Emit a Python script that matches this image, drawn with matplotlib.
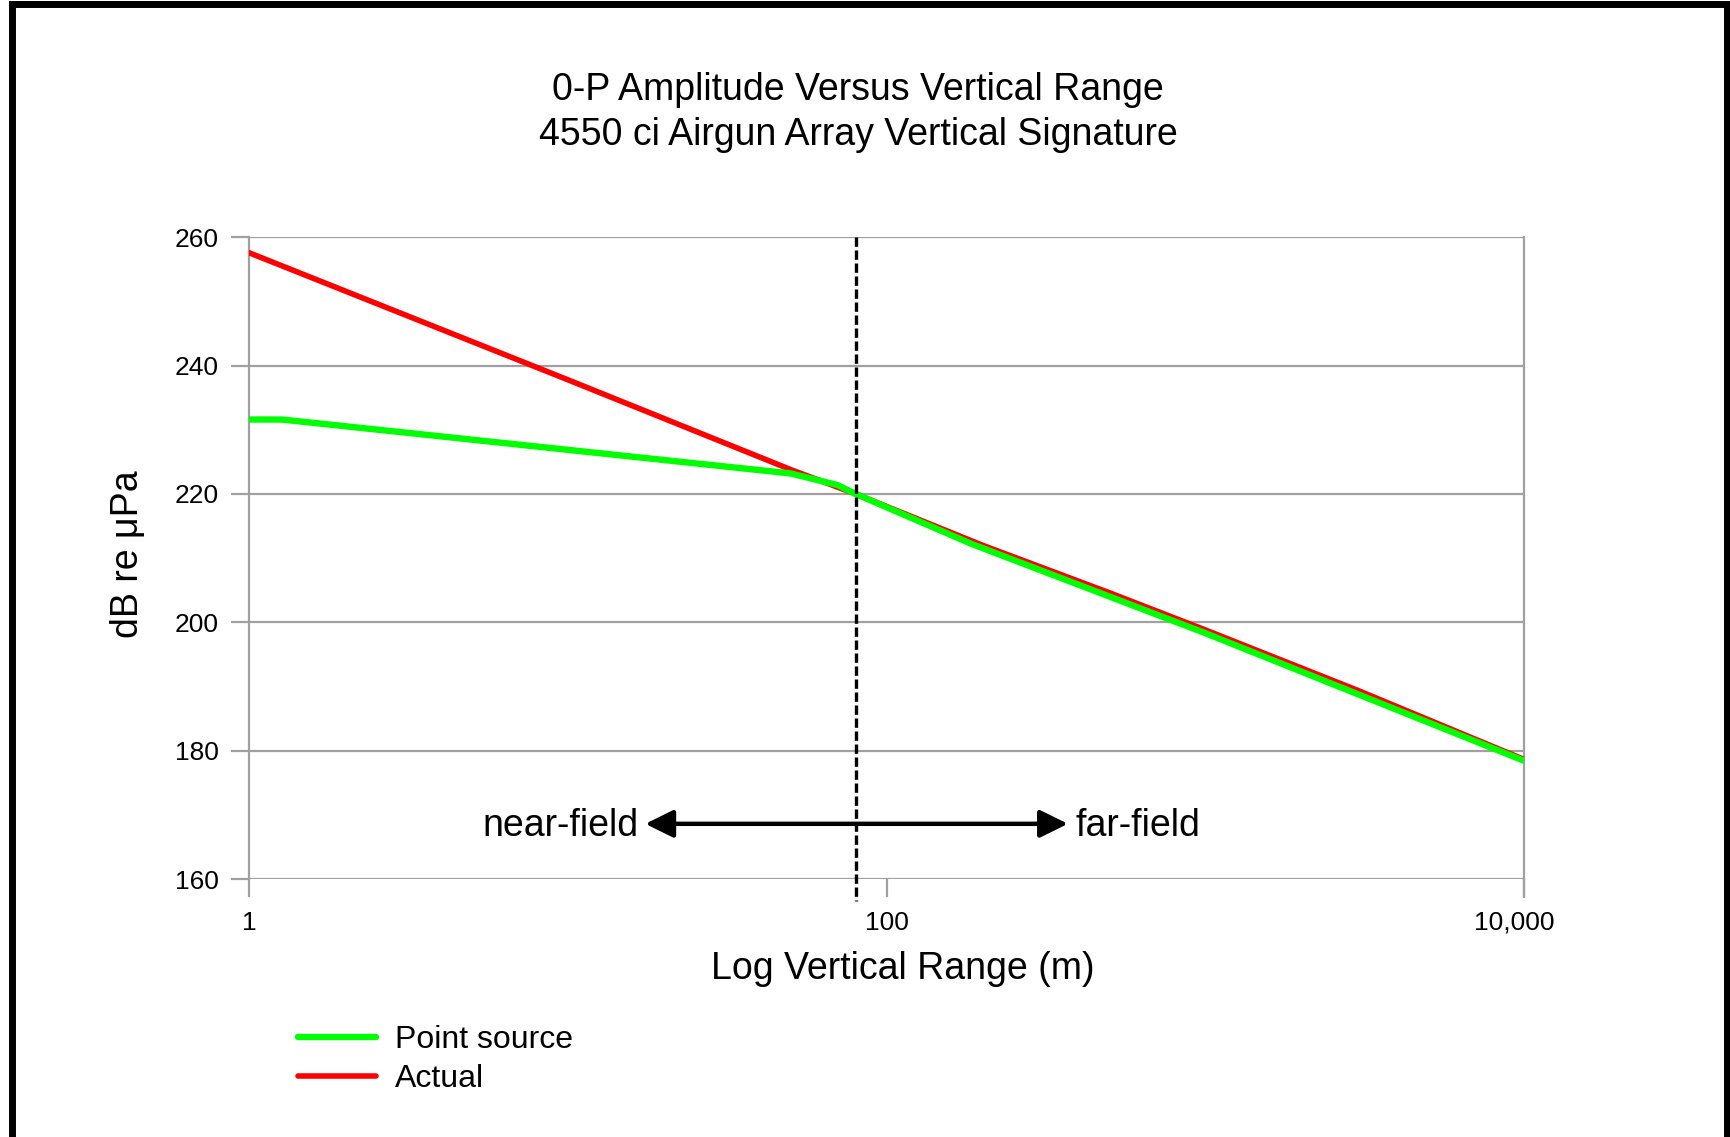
"""0-P amplitude vs vertical range for a 4550 ci airgun array (vertical signature).

Point-source extrapolation vs actual array level, log range axis, with the
near-field / far-field boundary marked.
"""
import matplotlib.pyplot as plt
from matplotlib.patches import Rectangle
from matplotlib.ticker import FixedLocator, NullLocator
from matplotlib.transforms import ScaledTranslation

plt.rcParams["font.family"] = ["Liberation Sans", "DejaVu Sans"]

# range (m) and level (dB re uPa), read per series
range_actual = [1, 10, 50, 80, 200, 500, 1000, 3000, 10000]
level_actual = [257.6, 237.8, 223.8, 220.0, 212.0, 204.6, 198.8, 189.4, 178.6]

range_point = [1, 1.27, 50, 70, 80, 185, 1000, 10000]
level_point = [231.6, 231.6, 223.2, 221.4, 220.0, 212.2, 198.3, 178.4]

x_ticks = [1, 100, 10000]
x_tick_labels = ["1", "100", "10,000"]
y_ticks = [160, 180, 200, 220, 240, 260]

boundary_range = 80          # near-field / far-field transition (m)
arrow_span = (17.5, 370)     # extent of the double arrow (m)
arrow_level = 168.6

GRID = "#a0a0a0"

fig = plt.figure(figsize=(17.3, 11.37), dpi=100)
ax = fig.add_axes([0.1439, 0.2269, 0.8812 - 0.1439, 0.7913 - 0.2269])

ax.set_xscale("log")
ax.set_xlim(1, 10000)
ax.set_ylim(160, 260)

ax.plot(range_actual, level_actual, color="#ff0000", lw=4.0,
        solid_capstyle="round", label="Actual", zorder=3)
ax.plot(range_point, level_point, color="#00ff00", lw=4.6,
        solid_capstyle="round", label="Point source", zorder=4)

# boundary line runs slightly past the bottom of the axes
ax.plot([boundary_range, boundary_range], [260, 156.6], color="black",
        lw=2.4, ls=(0, (2.8, 1.1)), clip_on=False, zorder=5)

ax.annotate("", xy=(arrow_span[0], arrow_level),
            xytext=(arrow_span[1], arrow_level),
            arrowprops=dict(arrowstyle="<|-|>,head_length=0.85,head_width=0.42",
                            mutation_scale=20, color="black", lw=3.2,
                            shrinkA=0, shrinkB=0), zorder=6)
ax.text(16.7, arrow_level - 0.3, "near-field", ha="right", va="center", fontsize=27)
ax.text(392, arrow_level - 0.3, "far-field", ha="left", va="center", fontsize=27)

ax.yaxis.set_major_locator(FixedLocator(y_ticks))
ax.xaxis.set_major_locator(FixedLocator(x_ticks))
ax.xaxis.set_minor_locator(NullLocator())
ax.set_xticklabels(x_tick_labels)
ax.grid(axis="y", color=GRID, lw=1.6)
ax.set_axisbelow(True)
ax.tick_params(axis="both", which="major", direction="out", length=13,
               width=1.6, color=GRID, labelsize=19)
ax.tick_params(axis="y", pad=9)
ax.tick_params(axis="x", pad=10)
# last range label sits a little left of its tick
last = ax.get_xticklabels()[-1]
last.set_transform(last.get_transform()
                   + ScaledTranslation(-0.10, 0, fig.dpi_scale_trans))
for side in ("left", "right"):
    ax.spines[side].set_color(GRID)
    ax.spines[side].set_linewidth(1.6)
for side in ("top", "bottom"):
    ax.spines[side].set_visible(False)
# right edge also carries a tick below the axis
ax.plot([10000, 10000], [160, 157.2], color=GRID, lw=1.6, clip_on=False)

fig.text(0.496, 0.9206, "0-P Amplitude Versus Vertical Range",
         ha="center", va="center", fontsize=27)
fig.text(0.496, 0.8810, "4550 ci Airgun Array Vertical Signature",
         ha="center", va="center", fontsize=27)
fig.text(0.522, 0.148, "Log Vertical Range (m)", ha="center", va="center",
         fontsize=27)
fig.text(0.074, 0.5128, "dB re μPa", ha="center", va="center",
         rotation=90, fontsize=27)

handles, labels = ax.get_legend_handles_labels()
ax.legend(handles[::-1], labels[::-1], loc="upper left",
          bbox_to_anchor=(0.172, 0.0985), bbox_transform=fig.transFigure,
          frameon=False, fontsize=23, handlelength=2.45, handletextpad=0.6,
          labelspacing=0.29, borderpad=0, borderaxespad=0)

# heavy frame around the whole chart
fig.patches.append(Rectangle((12 / 1730, -0.05), (1727 - 12) / 1730, 1.05 - 4 / 1137,
                             transform=fig.transFigure, fill=False,
                             edgecolor="black", lw=5, zorder=10))

fig.savefig("out.png", dpi=100)
